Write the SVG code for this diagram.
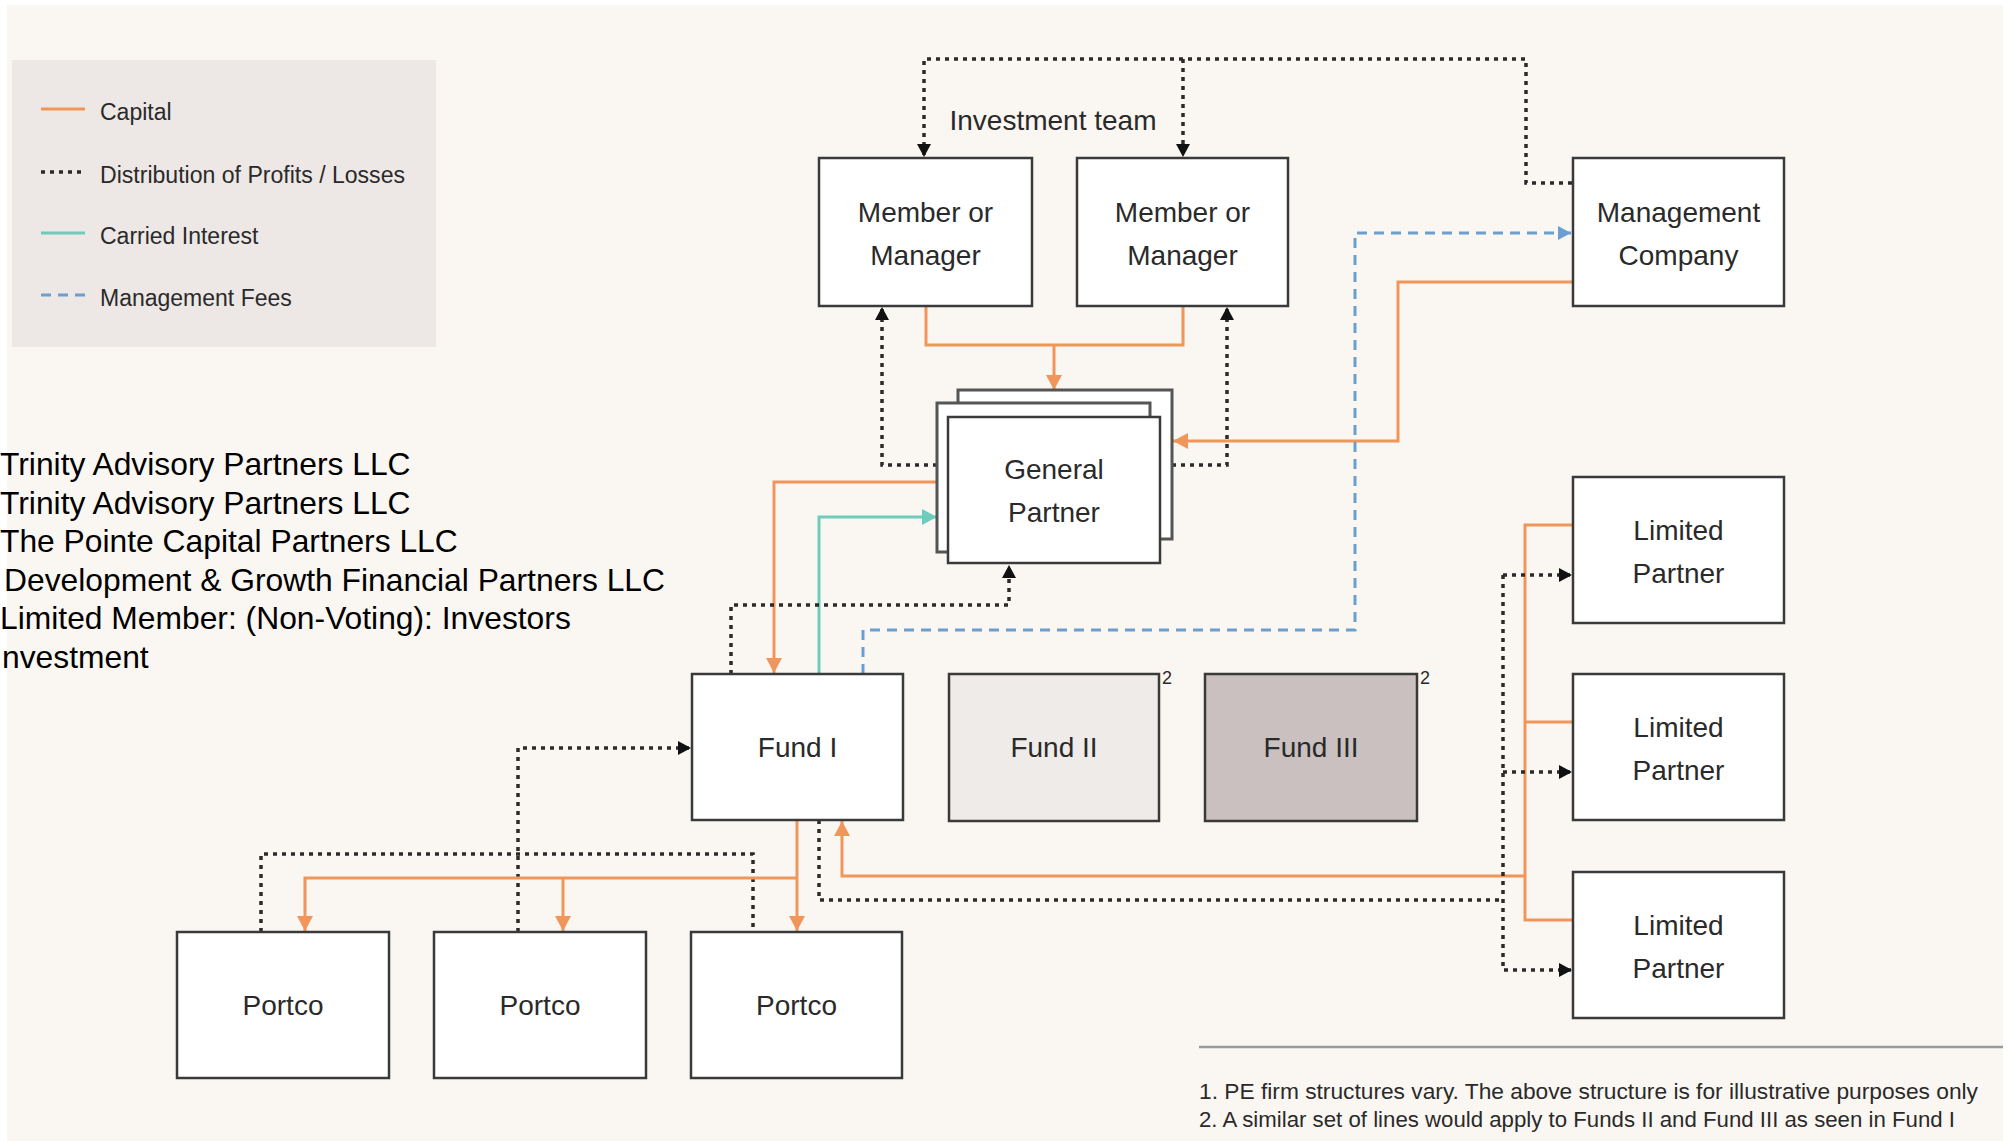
<svg xmlns="http://www.w3.org/2000/svg" width="2010" height="1141" viewBox="0 0 2010 1141">
  <style>
    .box { fill: #ffffff; stroke: #3a3a3a; stroke-width: 2.5; }
    .lbl { font-family: "Liberation Sans", Arial, sans-serif; font-size: 28px; fill: #2a2a2a; text-anchor: middle; }
    .leg { font-family: "Liberation Sans", Arial, sans-serif; font-size: 23px; fill: #2a2a2a; }
    .note { font-family: "Liberation Sans", Arial, sans-serif; font-size: 22px; fill: #2a2a2a; }
    .side { font-family: "Liberation Sans", Arial, sans-serif; font-size: 31.8px; fill: #000000; }
    .sup { font-family: "Liberation Sans", Arial, sans-serif; font-size: 18px; fill: #2a2a2a; }
    .cap { fill: none; stroke: #f0965a; stroke-width: 3; }
    .dist { fill: none; stroke: #2a2a2a; stroke-width: 3.5; stroke-dasharray: 4 5; }
    .carry { fill: none; stroke: #6fcbbb; stroke-width: 3; }
    .fee { fill: none; stroke: #6a9fcf; stroke-width: 3; stroke-dasharray: 10 7; }
  </style>
  <defs>
    <marker id="aO" markerUnits="userSpaceOnUse" markerWidth="16" markerHeight="16" refX="15" refY="8" orient="auto">
      <path d="M0,0 L15,8 L0,16 z" fill="#f0965a"/>
    </marker>
    <marker id="aK" markerUnits="userSpaceOnUse" markerWidth="14" markerHeight="14" refX="13" refY="7" orient="auto">
      <path d="M0,0 L13,7 L0,14 z" fill="#111111"/>
    </marker>
    <marker id="aB" markerUnits="userSpaceOnUse" markerWidth="14" markerHeight="14" refX="13" refY="7" orient="auto">
      <path d="M0,0 L13,7 L0,14 z" fill="#6a9fcf"/>
    </marker>
    <marker id="aT" markerUnits="userSpaceOnUse" markerWidth="16" markerHeight="16" refX="15" refY="8" orient="auto">
      <path d="M0,0 L15,8 L0,16 z" fill="#6fcbbb"/>
    </marker>
  </defs>

  <rect x="0" y="0" width="2010" height="1141" fill="#ffffff"/>
  <rect x="7" y="5" width="1996" height="1136" fill="#faf7f2"/>

  <!-- Legend -->
  <g id="legend">
    <rect x="12" y="60" width="424" height="287" fill="#ede8e5"/>
    <line x1="41" y1="109" x2="85" y2="109" class="cap"/>
    <text x="100" y="120" class="leg">Capital</text>
    <line x1="41" y1="172" x2="85" y2="172" class="dist"/>
    <text x="100" y="183" class="leg" textLength="305" lengthAdjust="spacingAndGlyphs">Distribution of Profits / Losses</text>
    <line x1="41" y1="233" x2="85" y2="233" class="carry"/>
    <text x="100" y="244" class="leg">Carried Interest</text>
    <line x1="41" y1="295" x2="85" y2="295" class="fee"/>
    <text x="100" y="306" class="leg">Management Fees</text>
  </g>

  <!-- Side text -->
  <g id="side-text">
    <text x="0" y="475" class="side">Trinity Advisory Partners LLC</text>
    <text x="0" y="513.5" class="side">Trinity Advisory Partners LLC</text>
    <text x="0" y="552" class="side">The Pointe Capital Partners LLC</text>
    <text x="4" y="590.5" class="side">Development &amp; Growth Financial Partners LLC</text>
    <text x="0" y="629" class="side">Limited Member: (Non-Voting): Investors</text>
    <text x="2" y="667.5" class="side">nvestment</text>
  </g>

  <text x="1053" y="130" class="lbl">Investment team</text>

  <!-- Connectors -->
  <g id="connectors">
    <path class="dist" d="M1572,183 H1526 V59 H924 V157" marker-end="url(#aK)"/>
    <path class="dist" d="M1183,59 V157" marker-end="url(#aK)"/>
    <path class="dist" d="M937,465 H882 V307" marker-end="url(#aK)"/>
    <path class="dist" d="M1172,465 H1227 V307" marker-end="url(#aK)"/>
    <path class="cap" d="M926,306 V345 H1183 V306"/>
    <path class="cap" d="M1054,345 V390" marker-end="url(#aO)"/>
    <path class="cap" d="M1573,282 H1398 V441 H1173" marker-end="url(#aO)"/>
    <path class="fee" d="M863,674 V630 H1355 V233 H1571" marker-end="url(#aB)"/>
    <path class="cap" d="M937,482 H774 V673" marker-end="url(#aO)"/>
    <path class="carry" d="M819,674 V517 H937" marker-end="url(#aT)"/>
    <path class="dist" d="M731,674 V605 H1009 V565" marker-end="url(#aK)"/>
    <path class="dist" d="M261,932 V854 H753 V932"/>
    <path class="dist" d="M518,932 V748 H691" marker-end="url(#aK)"/>
    <path class="cap" d="M797,820 V931" marker-end="url(#aO)"/>
    <path class="cap" d="M797,878 H305 V931" marker-end="url(#aO)"/>
    <path class="cap" d="M563,878 V931" marker-end="url(#aO)"/>
    <path class="cap" d="M1573,525 H1525 V920 H1573"/>
    <path class="cap" d="M1525,722 H1573"/>
    <path class="cap" d="M1525,876 H842 V821" marker-end="url(#aO)"/>
    <path class="dist" d="M819,820 V900 H1503"/>
    <path class="dist" d="M1503,575 V970 H1572" marker-end="url(#aK)"/>
    <path class="dist" d="M1503,575 H1572" marker-end="url(#aK)"/>
    <path class="dist" d="M1503,772 H1572" marker-end="url(#aK)"/>
  </g>

  <!-- Nodes -->
  <g id="member1">
    <rect x="819" y="158" width="213" height="148" class="box"/>
    <text x="925.5" y="222" class="lbl">Member or</text>
    <text x="925.5" y="265" class="lbl">Manager</text>
  </g>
  <g id="member2">
    <rect x="1077" y="158" width="211" height="148" class="box"/>
    <text x="1182.5" y="222" class="lbl">Member or</text>
    <text x="1182.5" y="265" class="lbl">Manager</text>
  </g>
  <g id="management-company">
    <rect x="1573" y="158" width="211" height="148" class="box"/>
    <text x="1678.5" y="222" class="lbl">Management</text>
    <text x="1678.5" y="265" class="lbl">Company</text>
  </g>
  <g id="general-partner">
    <rect x="958" y="390" width="214" height="149" fill="#ffffff" stroke="#555555" stroke-width="3"/>
    <rect x="937" y="403" width="213" height="149" fill="#ffffff" stroke="#555555" stroke-width="3"/>
    <rect x="948" y="417" width="212" height="146" class="box"/>
    <text x="1054" y="479" class="lbl">General</text>
    <text x="1054" y="522" class="lbl">Partner</text>
  </g>
  <g id="lp1">
    <rect x="1573" y="477" width="211" height="146" class="box"/>
    <text x="1678.5" y="540" class="lbl">Limited</text>
    <text x="1678.5" y="583" class="lbl">Partner</text>
  </g>
  <g id="lp2">
    <rect x="1573" y="674" width="211" height="146" class="box"/>
    <text x="1678.5" y="737" class="lbl">Limited</text>
    <text x="1678.5" y="780" class="lbl">Partner</text>
  </g>
  <g id="lp3">
    <rect x="1573" y="872" width="211" height="146" class="box"/>
    <text x="1678.5" y="935" class="lbl">Limited</text>
    <text x="1678.5" y="978" class="lbl">Partner</text>
  </g>
  <g id="fund1">
    <rect x="692" y="674" width="211" height="146" class="box"/>
    <text x="797.5" y="757" class="lbl">Fund I</text>
  </g>
  <g id="fund2">
    <rect x="949" y="674" width="210" height="147" class="box" style="fill:#efebe8"/>
    <text x="1054" y="757" class="lbl">Fund II</text>
    <text x="1162" y="684" class="sup">2</text>
  </g>
  <g id="fund3">
    <rect x="1205" y="674" width="212" height="147" class="box" style="fill:#c9c0bf"/>
    <text x="1311" y="757" class="lbl">Fund III</text>
    <text x="1420" y="684" class="sup">2</text>
  </g>
  <g id="portco1">
    <rect x="177" y="932" width="212" height="146" class="box"/>
    <text x="283" y="1015" class="lbl">Portco</text>
  </g>
  <g id="portco2">
    <rect x="434" y="932" width="212" height="146" class="box"/>
    <text x="540" y="1015" class="lbl">Portco</text>
  </g>
  <g id="portco3">
    <rect x="691" y="932" width="211" height="146" class="box"/>
    <text x="796.5" y="1015" class="lbl">Portco</text>
  </g>

  <!-- Footnotes -->
  <g id="footnotes">
    <line x1="1199" y1="1047" x2="2003" y2="1047" stroke="#9a9a9a" stroke-width="2.5"/>
    <text x="1199" y="1099" class="note" textLength="779" lengthAdjust="spacingAndGlyphs">1. PE firm structures vary. The above structure is for illustrative purposes only</text>
    <text x="1199" y="1127" class="note" textLength="756" lengthAdjust="spacingAndGlyphs">2. A similar set of  lines would apply to Funds II and Fund III as seen in Fund I</text>
  </g>
</svg>
